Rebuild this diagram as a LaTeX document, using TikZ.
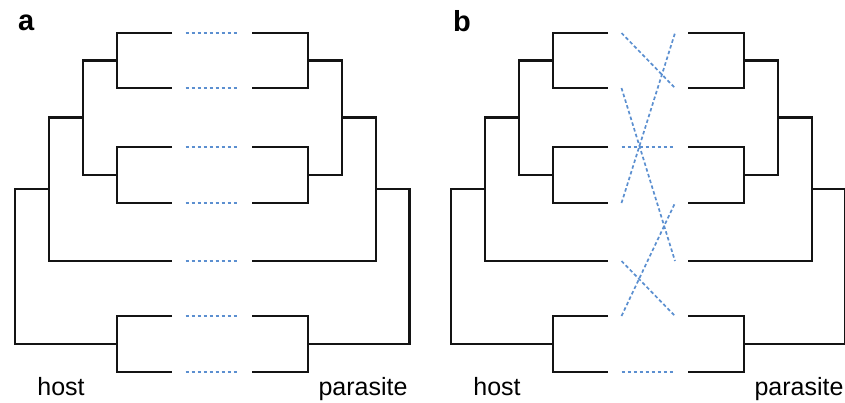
\documentclass[tikz,border=0pt]{standalone}
\usepackage{fontspec}
\setmainfont{Liberation Sans}
\definecolor{linkblue}{HTML}{5B8FD0}
\definecolor{treeblack}{HTML}{141414}
\begin{document}
\begin{tikzpicture}[x=1pt,y=-1pt,
  tree/.style={draw=treeblack,line width=2.6pt,line join=miter},
  link/.style={draw=linkblue,line width=1.7pt,dash pattern=on 3.5pt off 2.5pt},
  label/.style={inner sep=0pt,anchor=base,font=\fontsize{25}{30}\selectfont},
  panel/.style={inner sep=0pt,anchor=base west,font=\bfseries\fontsize{29}{34}\selectfont}]
\useasboundingbox (0,0) rectangle (845,402);

\foreach \p/\s in {a/0,b/436}{
  \begin{scope}[xshift=\s pt]
    % leaf tips of host (h) and parasite (q) trees, and ends of the links
    \foreach \i/\y in {1/33,2/88,3/147,4/203,5/261,6/316,7/372}{
      \coordinate (\p h\i) at (172,\y);
      \coordinate (\p q\i) at (252,\y);
      \coordinate (\p l\i) at (185.5,\y);
      \coordinate (\p r\i) at (239,\y);
    }
    % internal nodes of the host tree
    \coordinate (\p hA) at (117,60.5);
    \coordinate (\p hB) at (117,175);
    \coordinate (\p hC) at (83,117.75);
    \coordinate (\p hD) at (49,189);
    \coordinate (\p hE) at (117,344);
    \coordinate (\p hR) at (15,266.5);
    % internal nodes of the parasite tree
    \coordinate (\p qA) at (308,60.5);
    \coordinate (\p qB) at (308,175);
    \coordinate (\p qC) at (342,117.75);
    \coordinate (\p qD) at (376,189);
    \coordinate (\p qE) at (308,344);
    \coordinate (\p qR) at (409.5,266.5);

    % host tree
    \draw[tree] (\p h1) -| (\p hA) |- (\p h2);
    \draw[tree] (\p h3) -| (\p hB) |- (\p h4);
    \draw[tree] (\p hA) -| (\p hC) |- (\p hB);
    \draw[tree] (\p hC) -| (\p hD) |- (\p h5);
    \draw[tree] (\p h6) -| (\p hE) |- (\p h7);
    \draw[tree] (\p hD) -| (\p hR) |- (\p hE);
    % parasite tree
    \draw[tree] (\p q1) -| (\p qA) |- (\p q2);
    \draw[tree] (\p q3) -| (\p qB) |- (\p q4);
    \draw[tree] (\p qA) -| (\p qC) |- (\p qB);
    \draw[tree] (\p qC) -| (\p qD) |- (\p q5);
    \draw[tree] (\p q6) -| (\p qE) |- (\p q7);
    \draw[tree] (\p qD) -| (\p qR) |- (\p qE);

    \node[label] (\p host) at (61,395) {host};
    \node[label] (\p para) at (363,395) {parasite};
  \end{scope}
}

% panel letters
\node[panel] (lettera) at (18,30) {a};
\node[panel] (letterb) at (453,31) {b};

% (a) congruent associations
\foreach \i in {1,...,7}{
  \draw[link] (al\i) -- (ar\i);
}
% (b) incongruent associations
\foreach \i/\j in {1/2,2/5,3/3,4/1,5/6,6/4,7/7}{
  \draw[link] (bl\i) -- (br\j);
}
\end{tikzpicture}
\end{document}
